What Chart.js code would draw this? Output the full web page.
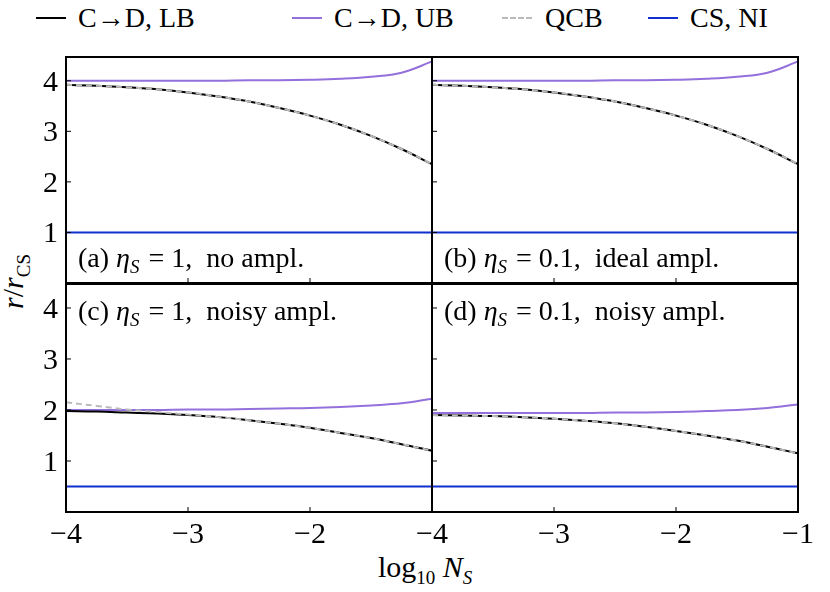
<!DOCTYPE html>
<html>
<head>
<meta charset="utf-8">
<script src="https://cdn.jsdelivr.net/npm/chart.js@4.4.0/dist/chart.umd.min.js"></script>
<style>
  body { margin: 0; background: #fff; width: 830px; height: 592px; position: relative; overflow: hidden; font-family: "Liberation Serif", serif; }
  canvas { position: absolute; left: 0; top: 0; }
  .lg { position: absolute; top: 2px; font-size: 28px; white-space: nowrap; }
  .ln { position: absolute; top: 17px; width: 30px; height: 0; border-top: 2px solid #000; }
  .ylab { position: absolute; left: -12px; top: 262px; transform: rotate(-90deg); font-size: 30px; font-style: italic; }
  .xlab { position: absolute; left: 378px; top: 550px; font-size: 30px; }
</style>
</head>
<body>
<div class="ln" style="left:36px"></div><div class="lg" style="left:78px">C→D, LB</div>
<div class="ln" style="left:292px;border-color:#9370db"></div><div class="lg" style="left:334px">C→D, UB</div>
<div class="ln" style="left:502px;border-top:2px dashed #bbb"></div><div class="lg" style="left:545px">QCB</div>
<div class="ln" style="left:648px;border-color:#1030d0"></div><div class="lg" style="left:690px">CS, NI</div>
<div class="ylab">r<span style="font-style:normal">/</span>r<sub style="font-style:normal;font-size:19px">CS</sub></div>
<div class="xlab">log<sub style="font-size:19px">10</sub> <i>N<sub style="font-size:19px">S</sub></i></div>
<canvas id="a"></canvas><canvas id="b"></canvas><canvas id="c"></canvas><canvas id="d"></canvas>
<script>
const logN = [-4, -3.75, -3.5, -3.25, -3, -2.75, -2.5, -2.25, -2, -1.75, -1.5, -1.25, -1];
const yTicks = [1, 2, 3, 4];

const lbA = [3.92, 3.90, 3.87, 3.83, 3.77, 3.69, 3.59, 3.46, 3.31, 3.13, 2.91, 2.65, 2.35];
const ubA = [4.0, 4.0, 4.0, 4.0, 4.0, 4.0, 4.01, 4.01, 4.02, 4.04, 4.08, 4.16, 4.38];
const qcbA = lbA;
const csA = [1, 1, 1, 1, 1, 1, 1, 1, 1, 1, 1, 1, 1];

const lbB = [3.92, 3.90, 3.87, 3.83, 3.77, 3.69, 3.59, 3.46, 3.31, 3.13, 2.91, 2.65, 2.35];
const ubB = [4.0, 4.0, 4.0, 4.0, 4.0, 4.0, 4.01, 4.01, 4.02, 4.04, 4.08, 4.16, 4.38];
const qcbB = lbB;
const csB = csA;

const lbC = [1.98, 1.97, 1.95, 1.93, 1.90, 1.86, 1.80, 1.73, 1.65, 1.55, 1.45, 1.33, 1.20];
const ubC = [2.0, 2.0, 2.0, 2.0, 2.01, 2.01, 2.02, 2.03, 2.04, 2.06, 2.09, 2.13, 2.22];
const qcbC = [2.15, 2.08, 2.01, 1.96, 1.91, 1.86, 1.80, 1.73, 1.65, 1.55, 1.45, 1.33, 1.20];
const csC = [0.5, 0.5, 0.5, 0.5, 0.5, 0.5, 0.5, 0.5, 0.5, 0.5, 0.5, 0.5, 0.5];

const lbD = [1.90, 1.89, 1.88, 1.86, 1.83, 1.79, 1.74, 1.67, 1.59, 1.50, 1.40, 1.28, 1.15];
const ubD = [1.94, 1.94, 1.94, 1.94, 1.94, 1.94, 1.95, 1.95, 1.96, 1.98, 2.00, 2.04, 2.11];
const qcbD = lbD;
const csD = csC;

const tickFont = '30px Liberation Serif';
const fmt = v => (v < 0 ? '\u2212' + Math.abs(v) : '' + v);

// frame, inward ticks, tick labels and panel caption
const framePlugin = {
  id: 'frame',
  afterDraw(chart, args, opts) {
    const { ctx, chartArea: a, scales } = chart;
    ctx.save();
    ctx.strokeStyle = '#000';
    ctx.lineWidth = 2;
    ctx.strokeRect(a.left, a.top, a.right - a.left, a.bottom - a.top);
    ctx.lineWidth = 1;
    ctx.beginPath();
    yTicks.forEach(v => {
      const y = scales.y.getPixelForValue(v);
      ctx.moveTo(a.left, y); ctx.lineTo(a.left + 5, y);
    });
    [-3, -2].forEach(v => {
      const x = scales.x.getPixelForValue(v);
      ctx.moveTo(x, a.bottom); ctx.lineTo(x, a.bottom - 5);
    });
    ctx.stroke();
    ctx.fillStyle = '#000';
    ctx.font = tickFont;
    if (opts.showY) {
      ctx.textAlign = 'right'; ctx.textBaseline = 'middle';
      yTicks.forEach(v => ctx.fillText(fmt(v), a.left - 8, scales.y.getPixelForValue(v) + 2));
    }
    ctx.textAlign = 'center'; ctx.textBaseline = 'top';
    opts.xTicks.forEach(v => ctx.fillText(fmt(v), scales.x.getPixelForValue(v), a.bottom + 8));
    // caption
    ctx.textAlign = 'left'; ctx.textBaseline = 'alphabetic';
    const y = opts.top ? a.top + 36 : a.bottom - 16;
    let x = a.left + 12;
    const put = (t, f) => { ctx.font = f; ctx.fillText(t, x, y); x += ctx.measureText(t).width; };
    put('(' + opts.tag + ') ', '28px Liberation Serif');
    put('η', 'italic 28px Liberation Serif');
    ctx.font = 'italic 19px Liberation Serif';
    ctx.fillText('S', x, y + 6); x += ctx.measureText('S').width + 2;
    put(' = ' + opts.eta + ',  ' + opts.text, '28px Liberation Serif');
    ctx.restore();
  }
};

function makePanel(id, box, lb, ub, qcb, cs, frame) {
  const el = document.getElementById(id);
  el.width = 830; el.height = 592;
  el.style.width = '830px'; el.style.height = '592px';
  const ds = (data, color, dash) => ({
    data: data.map((v, i) => ({ x: logN[i], y: v })),
    borderColor: color, borderWidth: 2, borderDash: dash,
    pointRadius: 0, tension: 0.4, fill: false
  });
  return new Chart(el, {
    type: 'line',
    data: {
      // first dataset is drawn on top
      datasets: [
        ds(qcb, '#bbb', [6, 4]),
        ds(lb, '#000', []),
        ds(ub, '#9370db', []),
        ds(cs, '#1030d0', [])
      ]
    },
    options: {
      responsive: false,
      animation: false,
      layout: { padding: { left: box[0], top: box[1], right: 830 - box[2], bottom: 592 - box[3] } },
      plugins: { legend: { display: false }, tooltip: { enabled: false }, frame: frame },
      scales: {
        x: { type: 'linear', min: -4, max: -1, display: false },
        y: { min: 0, max: 4.47, display: false }
      }
    },
    plugins: [framePlugin]
  });
}

makePanel('a', [66, 57, 432, 283], lbA, ubA, qcbA, csA,
  { showY: true, xTicks: [], tag: 'a', eta: '1', text: 'no ampl.', top: false });
makePanel('b', [432, 57, 798, 283], lbB, ubB, qcbB, csB,
  { showY: false, xTicks: [], tag: 'b', eta: '0.1', text: 'ideal ampl.', top: false });
makePanel('c', [66, 284, 432, 512], lbC, ubC, qcbC, csC,
  { showY: true, xTicks: [-4, -3, -2], tag: 'c', eta: '1', text: 'noisy ampl.', top: true });
makePanel('d', [432, 284, 798, 512], lbD, ubD, qcbD, csD,
  { showY: false, xTicks: [-4, -3, -2, -1], tag: 'd', eta: '0.1', text: 'noisy ampl.', top: true });
</script>
</body>
</html>
